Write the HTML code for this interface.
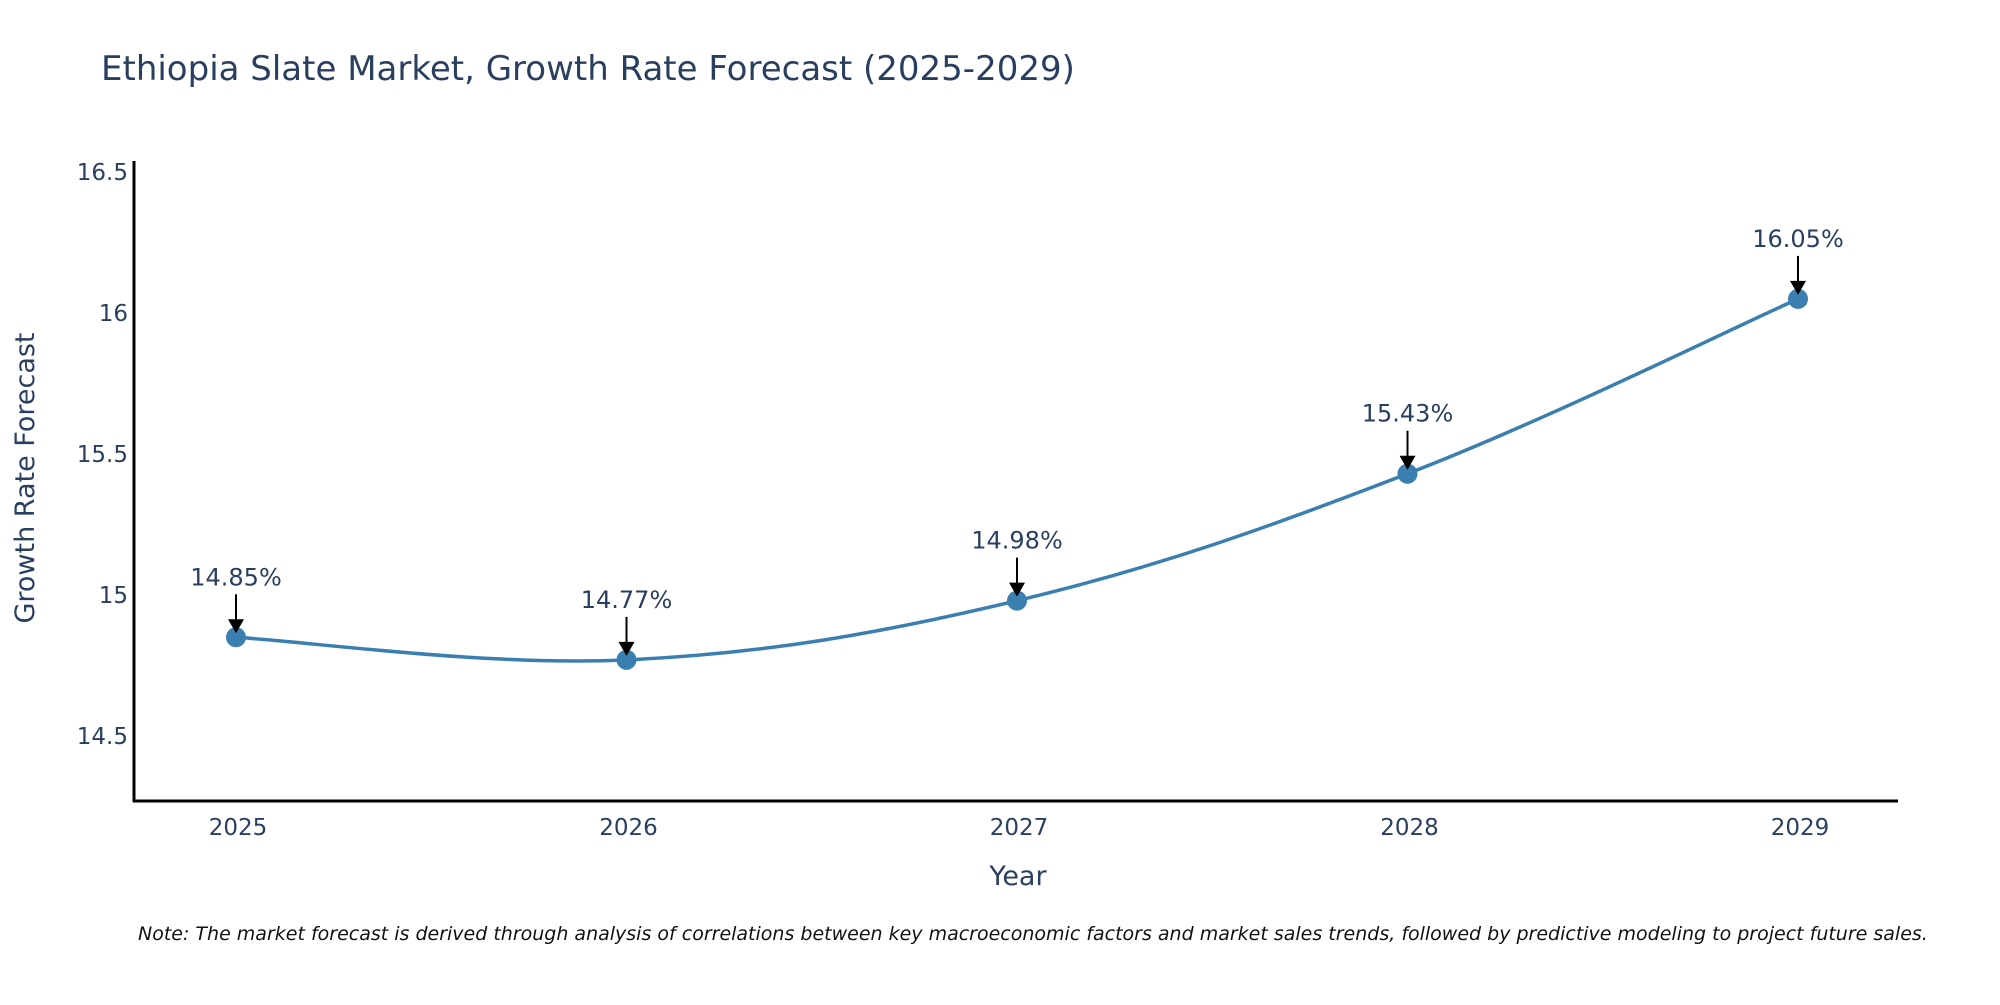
<!DOCTYPE html>
<html><head><meta charset="utf-8"><style>
body{margin:0;background:#fff;overflow:hidden;}
svg text{font-family:"DejaVu Sans","Liberation Sans",sans-serif;fill:#2a3f5f;}
</style></head><body>
<svg width="2000" height="1000" xmlns="http://www.w3.org/2000/svg" id="chart">
<text x="101" y="80" font-size="34">Ethiopia Slate Market, Growth Rate Forecast (2025-2029)</text>
<g id="yticks"></g>
<g id="xticks"></g>
<line x1="134" y1="161" x2="134" y2="802" stroke="#000" stroke-width="3"/>
<line x1="133" y1="801" x2="1898" y2="801" stroke="#000" stroke-width="3"/>
<path id="line" fill="none" stroke="#3a7fb0" stroke-width="3.5"/>
<g id="marks"></g>
<text x="1018" y="885" font-size="27" text-anchor="middle">Year</text>
<text transform="translate(34,478) rotate(-90)" font-size="27" text-anchor="middle">Growth Rate Forecast</text>
<text x="138" y="940" font-size="19" font-style="italic" style="fill:#111">Note: The market forecast is derived through analysis of correlations between key macroeconomic factors and market sales trends, followed by predictive modeling to project future sales.</text>
</svg>
<script>
const years=[2025,2026,2027,2028,2029];
const values=[14.85,14.77,14.98,15.43,16.05];
const yTicks=[14.5,15,15.5,16,16.5];
const yTickLabels=["14.5","15","15.5","16","16.5"];
const NS="http://www.w3.org/2000/svg";
const X=v=>236+(v-2025)*390.5;
const Y=v=>172+(16.5-v)*282;
function mk(t,a,p){const e=document.createElementNS(NS,t);for(const k in a)e.setAttribute(k,a[k]);p.appendChild(e);return e;}
const yt=document.getElementById('yticks');
yTicks.forEach((v,i)=>{const t=mk('text',{x:128,y:Y(v)+8,'font-size':23,'text-anchor':'end'},yt);t.textContent=yTickLabels[i];

});
const xt=document.getElementById('xticks');
years.forEach(v=>{const t=mk('text',{x:X(v)+2,y:835,'font-size':23,'text-anchor':'middle'},xt);t.textContent=v;

});
const pts=years.map((y,i)=>[X(y),Y(values[i])]);
let d=`M${pts[0][0]},${pts[0][1]}`;
for(let i=0;i<pts.length-1;i++){const p0=pts[Math.max(0,i-1)],p1=pts[i],p2=pts[i+1],p3=pts[Math.min(pts.length-1,i+2)];const s=0.18;
d+=` C${p1[0]+(p2[0]-p0[0])*s},${p1[1]+(p2[1]-p0[1])*s} ${p2[0]-(p3[0]-p1[0])*s},${p2[1]-(p3[1]-p1[1])*s} ${p2[0]},${p2[1]}`;}
document.getElementById('line').setAttribute('d',d);
const g=document.getElementById('marks');
pts.forEach((p,i)=>{
const c=mk('circle',{cx:p[0],cy:p[1],r:10,fill:'#3a7fb0'},g);


const l=mk('line',{x1:p[0],y1:p[1]-43,x2:p[0],y2:p[1]-16,stroke:'#000','stroke-width':2},g);


const h=mk('polygon',{points:`${p[0]-8},${p[1]-18} ${p[0]+8},${p[1]-18} ${p[0]},${p[1]-4}`,fill:'#000'},g);


const t=mk('text',{x:p[0],y:p[1]-52,'font-size':24,'text-anchor':'middle'},g);t.textContent=values[i].toFixed(2)+'%';


});
</script>
</body></html>
